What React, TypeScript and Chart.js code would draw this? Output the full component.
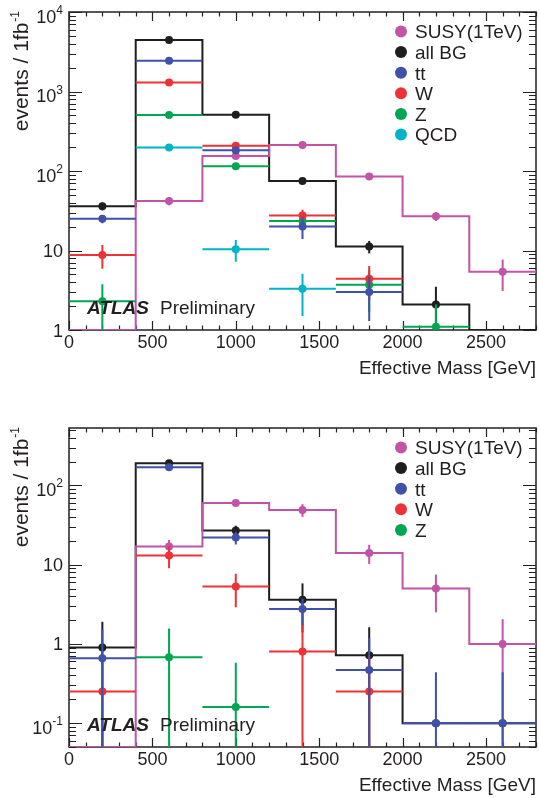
import React, { useEffect, useRef } from "react";
import { Chart, registerables } from "chart.js";

Chart.register(...registerables);

// ---------------- DATA ----------------
const binEdges = [0, 400, 800, 1200, 1600, 2000, 2400, 2800];
const binCenters = [200, 600, 1000, 1400, 1800, 2200, 2600];

const xTickValues = [0, 500, 1000, 1500, 2000, 2500];
const xTickLabels = ["0", "500", "1000", "1500", "2000", "2500"];

// top panel
const topYTickValues = [1, 10, 100, 1000, 10000];
const topYTickLabels = ["1", "10", "10^2", "10^3", "10^4"];
const topSusy = [0, 42, 154, 212, 85, 27, 5.4];
const topSusyErr = [0, 5, 8, 10, 6, 3.5, 2.3];
const topAllBG = [36, 4450, 510, 75, 11.2, 2.1, 0];
const topAllBGErr = [4, 45, 15, 6, 2, 1.4, 0];
const topTT = [25, 2440, 182, 20, 3.0, null, null];
const topTTErr = [3, 30, 10, 6, 1.7, null, null];
const topW = [8.8, 1300, 208, 27.5, 4.4, null, null];
const topWErr = [2.9, 25, 12, 5, 2.0, null, null];
const topZ = [2.3, 505, 115, 23.5, 3.7, 1.1, null];
const topZErr = [1.45, 15, 6, 5, 2.0, 1.0, null];
const topQCD = [null, 198, 10.4, 3.3, null, null, null];
const topQCDErr = [null, 10, 3.2, 1.8, null, null, null];

// bottom panel
const botYTickValues = [0.1, 1, 10, 100];
const botYTickLabels = ["10^-1", "1", "10", "10^2"];
const botSusy = [0, 17, 60, 49, 14, 5, 1.0];
const botSusyErr = [0, 3.5, 5, 9, 3.8, 2.5, 1.05];
const botAllBG = [0.9, 190, 27, 3.6, 0.72, 0.1, 0.1];
const botAllBGErr = [1.0, 14, 4, 2.2, 0.9, 0, 0];
const botTT = [0.66, 170, 22, 2.75, 0.47, 0.1, 0.1];
const botTTErr = [0.85, 13, 4, 1.0, 0.72, 0.34, 0.34];
const botW = [0.25, 13, 5.3, 0.8, 0.25, null, null];
const botWErr = [0.4, 4, 2.4, 1.0, 0.45, null, null];
const botZ = [null, 0.68, 0.16, null, null, null, null];
const botZErr = [null, 0.88, 0.42, null, null, null, null];

const labelSusy = "SUSY(1TeV)";
const labelAllBG = "all BG";
const labelTT = "tt";
const labelW = "W";
const labelZ = "Z";
const labelQCD = "QCD";

// ---------------- STYLE ----------------
const FONT = "'Liberation Sans', Arial, Helvetica, sans-serif";
const TEXT = "#231f20";
const C_SUSY = "#c154a6";
const C_BG = "#1e1e1e";
const C_TT = "#3f51a8";
const C_W = "#ec3237";
const C_Z = "#00a651";
const C_QCD = "#00b4c8";

type Series = {
  label: string;
  color: string;
  values: (number | null)[];
  errs: (number | null)[];
  hist: boolean;
};

type PanelCfg = {
  height: number;
  padTop: number;
  padBottom: number;
  yMin: number;
  yMax: number;
  yTickValues: number[];
  yTickLabels: string[];
  series: Series[];
};

function buildDatasets(series: Series[], yMin: number) {
  const ds: any[] = [];
  // components (non-histogram) drawn on top, then histograms
  const ordered = [...series.filter((s) => !s.hist), ...series.filter((s) => s.hist)];
  for (const s of ordered) {
    ds.push({
      type: "scatter",
      label: s.label,
      data: binCenters.map((x, i) => {
        const v = s.values[i];
        return { x, y: v != null && v > 0 ? v : null };
      }),
      pointRadius: 4,
      pointHoverRadius: 4,
      backgroundColor: s.color,
      borderColor: s.color,
      borderWidth: 0,
      showLine: false,
      _vals: s.values,
      _errs: s.errs,
      _hbar: !s.hist,
      _color: s.color,
    });
    if (s.hist) {
      const steps: { x: number; y: number }[] = [];
      s.values.forEach((v, i) => {
        const y = v != null && v > 0 ? v : yMin;
        steps.push({ x: binEdges[i], y });
        steps.push({ x: binEdges[i + 1], y });
      });
      ds.push({
        type: "line",
        label: s.label + " hist",
        data: steps,
        borderColor: s.color,
        borderWidth: 2,
        pointRadius: 0,
        fill: false,
        tension: 0,
      });
    }
  }
  return ds;
}

const errorBarPlugin = {
  id: "errorBars",
  beforeDatasetDraw(chart: any, args: any) {
    const d = chart.data.datasets[args.index];
    if (!d._errs) return;
    const ctx = chart.ctx;
    const xs = chart.scales.x;
    const ys = chart.scales.y;
    const yMin = ys.min;
    const { left, right, top, bottom } = chart.chartArea;
    ctx.save();
    ctx.beginPath();
    ctx.rect(left, top, right - left, bottom - top);
    ctx.clip();
    ctx.strokeStyle = d._color;
    ctx.lineWidth = 2;
    d._vals.forEach((v: number | null, i: number) => {
      if (v == null || v <= 0) return;
      const e = d._errs[i] || 0;
      const py = ys.getPixelForValue(v);
      const px = xs.getPixelForValue(binCenters[i]);
      ctx.beginPath();
      if (d._hbar) {
        ctx.moveTo(xs.getPixelForValue(binEdges[i]), py);
        ctx.lineTo(xs.getPixelForValue(binEdges[i + 1]), py);
      }
      if (e > 0) {
        const lo = v - e > yMin ? v - e : yMin;
        ctx.moveTo(px, ys.getPixelForValue(v + e));
        ctx.lineTo(px, ys.getPixelForValue(lo));
      }
      ctx.stroke();
    });
    ctx.restore();
  },
};

function makeDecorPlugin(cfg: PanelCfg) {
  return {
    id: "decor",
    beforeDatasetsDraw(chart: any) {
      const ctx = chart.ctx;
      const xs = chart.scales.x;
      const ys = chart.scales.y;
      const { left, right, top, bottom } = chart.chartArea;
      ctx.save();
      ctx.strokeStyle = "#222";
      ctx.lineWidth = 1.2;
      ctx.beginPath();
      // x ticks
      for (let v = 0; v <= 2800; v += 100) {
        const px = Math.round(xs.getPixelForValue(v)) + 0.5;
        const len = v % 500 === 0 ? 9 : 4.5;
        ctx.moveTo(px, bottom);
        ctx.lineTo(px, bottom - len);
        ctx.moveTo(px, top);
        ctx.lineTo(px, top + len);
      }
      // y ticks (log)
      const d0 = Math.floor(Math.log10(cfg.yMin));
      const d1 = Math.ceil(Math.log10(cfg.yMax));
      for (let d = d0; d <= d1; d++) {
        for (let k = 1; k <= 9; k++) {
          const v = k * Math.pow(10, d);
          if (v < cfg.yMin * 0.999 || v > cfg.yMax * 1.001) continue;
          const py = Math.round(ys.getPixelForValue(v)) + 0.5;
          const len = k === 1 ? 13 : 7;
          ctx.moveTo(left, py);
          ctx.lineTo(left + len, py);
          ctx.moveTo(right, py);
          ctx.lineTo(right - len, py);
        }
      }
      ctx.stroke();
      ctx.lineWidth = 1.5;
      ctx.strokeRect(left, top, right - left, bottom - top);
      ctx.restore();
    },
    afterDraw(chart: any) {
      const ctx = chart.ctx;
      const xs = chart.scales.x;
      const ys = chart.scales.y;
      const { left, right, top, bottom } = chart.chartArea;
      ctx.save();
      ctx.fillStyle = TEXT;
      // x tick labels
      ctx.font = `18px ${FONT}`;
      ctx.textAlign = "center";
      ctx.textBaseline = "alphabetic";
      xTickValues.forEach((v, i) => {
        ctx.fillText(xTickLabels[i], xs.getPixelForValue(v), bottom + 18);
      });
      // y tick labels
      ctx.textAlign = "left";
      cfg.yTickValues.forEach((v, i) => {
        const py = ys.getPixelForValue(v);
        const [base, sup] = cfg.yTickLabels[i].split("^");
        ctx.font = `18px ${FONT}`;
        const wb = ctx.measureText(base).width;
        let ws = 0;
        if (sup) {
          ctx.font = `12px ${FONT}`;
          ws = ctx.measureText(sup).width;
        }
        const xr = left - 6;
        const baseY = py + (sup ? 4 : 0) + 6.5;
        ctx.font = `18px ${FONT}`;
        ctx.fillText(base, xr - ws - wb, baseY);
        if (sup) {
          ctx.font = `12px ${FONT}`;
          ctx.fillText(sup, xr - ws, baseY - 8.5);
        }
      });
      // x title
      ctx.font = `19px ${FONT}`;
      ctx.textAlign = "right";
      ctx.fillText("Effective Mass [GeV]", right, bottom + 44);
      // y title (rotated)
      ctx.save();
      ctx.translate(28, top - 1);
      ctx.rotate(-Math.PI / 2);
      ctx.textAlign = "left";
      ctx.font = `12px ${FONT}`;
      const wsup = ctx.measureText("-1").width;
      ctx.font = `21px ${FONT}`;
      const wmain = ctx.measureText("events / 1fb").width;
      ctx.fillText("events / 1fb", -wsup - wmain - 1, 0);
      ctx.font = `12px ${FONT}`;
      ctx.fillText("-1", -wsup, -9);
      ctx.restore();
      // ATLAS Preliminary
      ctx.textAlign = "left";
      ctx.font = `italic bold 19px ${FONT}`;
      ctx.fillText("ATLAS", 87, bottom - 16);
      ctx.font = `19px ${FONT}`;
      ctx.fillText("Preliminary", 160, bottom - 16);
      // legend
      cfg.series.forEach((s, i) => {
        const cy = top + 19.5 + i * 20.6;
        ctx.beginPath();
        ctx.fillStyle = s.color;
        ctx.arc(401, cy, 6, 0, Math.PI * 2);
        ctx.fill();
        ctx.fillStyle = TEXT;
        ctx.font = `19px ${FONT}`;
        ctx.fillText(s.label, 415, cy + 6.8);
      });
      ctx.restore();
    },
  };
}

function Panel({ cfg }: { cfg: PanelCfg }) {
  const ref = useRef<HTMLCanvasElement>(null);
  useEffect(() => {
    const chart = new Chart(ref.current as HTMLCanvasElement, {
      type: "scatter",
      data: { datasets: buildDatasets(cfg.series, cfg.yMin) },
      options: {
        responsive: false,
        animation: false,
        events: [],
        layout: {
          padding: { left: 69, right: 1, top: cfg.padTop, bottom: cfg.padBottom },
        },
        scales: {
          x: { type: "linear", min: 0, max: 2800, display: false },
          y: { type: "logarithmic", min: cfg.yMin, max: cfg.yMax, display: false },
        },
        plugins: {
          legend: { display: false },
          tooltip: { enabled: false },
        },
      } as any,
      plugins: [errorBarPlugin as any, makeDecorPlugin(cfg) as any],
    });
    return () => chart.destroy();
  }, [cfg]);
  return (
    <canvas
      ref={ref}
      width={540}
      height={cfg.height}
      style={{ display: "block", width: 540, height: cfg.height }}
    />
  );
}

const topCfg: PanelCfg = {
  height: 390,
  padTop: 12,
  padBottom: 60,
  yMin: 1,
  yMax: 10000,
  yTickValues: topYTickValues,
  yTickLabels: topYTickLabels,
  series: [
    { label: labelSusy, color: C_SUSY, values: topSusy, errs: topSusyErr, hist: true },
    { label: labelAllBG, color: C_BG, values: topAllBG, errs: topAllBGErr, hist: true },
    { label: labelTT, color: C_TT, values: topTT, errs: topTTErr, hist: false },
    { label: labelW, color: C_W, values: topW, errs: topWErr, hist: false },
    { label: labelZ, color: C_Z, values: topZ, errs: topZErr, hist: false },
    { label: labelQCD, color: C_QCD, values: topQCD, errs: topQCDErr, hist: false },
  ],
};

const botCfg: PanelCfg = {
  height: 408,
  padTop: 38,
  padBottom: 51,
  yMin: 0.05,
  yMax: 530,
  yTickValues: botYTickValues,
  yTickLabels: botYTickLabels,
  series: [
    { label: labelSusy, color: C_SUSY, values: botSusy, errs: botSusyErr, hist: true },
    { label: labelAllBG, color: C_BG, values: botAllBG, errs: botAllBGErr, hist: true },
    { label: labelTT, color: C_TT, values: botTT, errs: botTTErr, hist: false },
    { label: labelW, color: C_W, values: botW, errs: botWErr, hist: false },
    { label: labelZ, color: C_Z, values: botZ, errs: botZErr, hist: false },
  ],
};

export default function App() {
  return (
    <div
      style={{
        position: "absolute",
        left: 0,
        top: 0,
        width: 540,
        height: 798,
        background: "#fff",
      }}
    >
      <Panel cfg={topCfg} />
      <Panel cfg={botCfg} />
    </div>
  );
}
